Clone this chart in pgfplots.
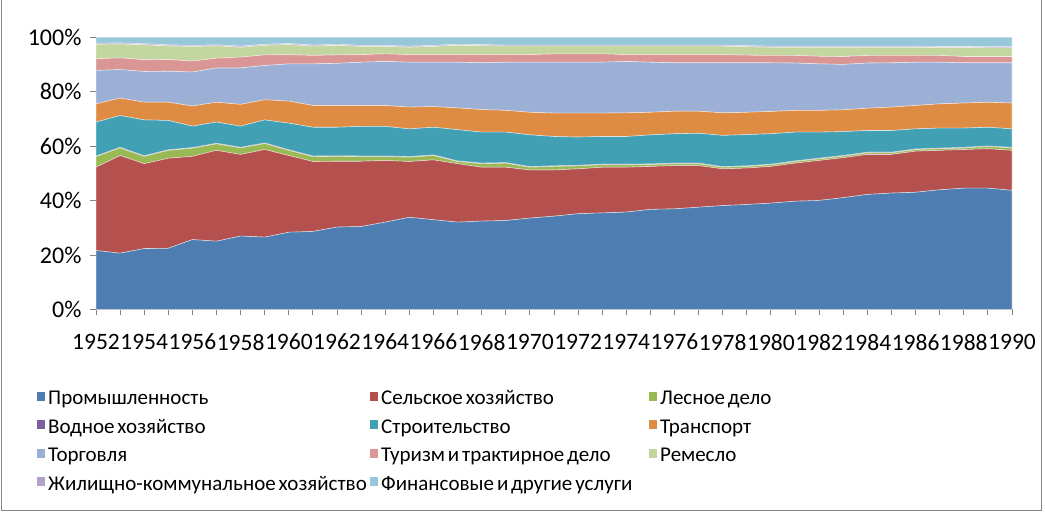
\documentclass[border=0pt]{standalone}
\usepackage{pgfplots}
\usepackage{pgfplotstable}
\pgfplotsset{compat=1.18}
\usepackage{fontspec}
\setmainfont{Carlito}
\newfontfamily\legfont{Carlito}[WordSpace=0.6]

\definecolor{c1}{HTML}{4E7DB1}
\definecolor{c2}{HTML}{B4504E}
\definecolor{c3}{HTML}{98B954}
\definecolor{c4}{HTML}{7D60A0}
\definecolor{c5}{HTML}{42A0B5}
\definecolor{c6}{HTML}{DE8B44}
\definecolor{c7}{HTML}{9BB0D4}
\definecolor{c8}{HTML}{D99694}
\definecolor{c9}{HTML}{C3D6A0}
\definecolor{c10}{HTML}{B3A2C7}
\definecolor{c11}{HTML}{96C8DA}
\definecolor{axgray}{HTML}{868686}

\newcommand{\la}[1]{\makebox[320pt][l]{#1}}
\newcommand{\lb}[1]{\makebox[266pt][l]{#1}}

\pgfplotstableread{
year B R G P T O Tg Pk Rm L F
1952 21.7 30.6 3.9 0.2 12.5 6.7 12.3 4.3 5.3 0.4 2.1
1953 20.7 35.9 2.8 0.2 11.7 6.4 10.5 4.3 5.1 0.4 2.0
1954 22.4 31.2 2.7 0.2 13.2 6.5 11.3 4.3 5.5 0.4 2.3
1955 22.5 33.1 2.9 0.2 10.8 6.7 11.4 4.3 5.0 0.4 2.7
1956 25.7 30.6 3.0 0.2 7.9 7.4 12.5 4.0 5.4 0.4 2.9
1957 25.1 33.4 2.4 0.2 7.8 7.3 12.6 3.6 4.5 0.4 2.7
1958 27.0 30.0 2.4 0.2 7.8 8.0 13.4 4.0 3.6 0.4 3.2
1959 26.6 32.2 2.2 0.2 8.5 7.4 12.6 3.9 3.5 0.4 2.5
1960 28.4 28.2 1.9 0.2 9.8 8.1 13.7 3.4 3.7 0.4 2.2
1961 28.7 25.7 1.8 0.2 10.6 8.0 15.3 3.1 3.4 0.4 2.8
1962 30.3 24.2 1.8 0.2 10.5 8.0 15.5 3.1 3.5 0.4 2.5
1963 30.5 24.0 1.7 0.2 10.9 7.7 15.9 2.8 3.0 0.4 2.9
1964 32.1 22.7 1.4 0.2 10.9 7.7 16.2 2.8 2.7 0.4 2.9
1965 33.9 20.5 1.6 0.2 10.2 8.0 16.5 2.8 2.7 0.4 3.2
1966 33.0 22.0 1.6 0.2 10.2 7.6 16.3 2.8 3.0 0.4 2.9
1967 32.1 21.5 0.8 0.2 11.5 8.0 16.8 2.8 3.4 0.4 2.5
1968 32.5 19.8 1.3 0.2 11.4 8.3 17.2 3.0 3.3 0.4 2.6
1969 32.7 19.6 1.5 0.2 11.2 8.0 17.7 2.8 3.1 0.4 2.8
1970 33.6 17.7 1.0 0.2 11.7 8.3 18.4 2.8 3.1 0.4 2.8
1971 34.3 17.0 1.3 0.2 10.8 8.6 18.7 3.1 2.8 0.4 2.8
1972 35.2 16.5 1.1 0.2 10.4 8.8 18.7 3.1 2.8 0.4 2.8
1973 35.5 16.8 0.9 0.2 10.2 8.6 18.7 3.1 2.8 0.4 2.8
1974 35.8 16.5 0.9 0.2 10.2 8.7 18.9 2.5 3.1 0.4 2.8
1975 36.8 15.8 0.7 0.2 10.7 8.3 18.4 2.8 3.1 0.4 2.8
1976 37.0 15.9 0.7 0.2 10.8 8.3 17.8 3.0 3.1 0.4 2.8
1977 37.6 15.3 0.7 0.2 11.0 8.1 17.8 3.0 3.1 0.4 2.8
1978 38.2 13.5 0.6 0.2 11.5 8.3 18.4 3.0 3.1 0.4 2.8
1979 38.6 13.4 0.6 0.2 11.5 8.2 18.2 2.8 3.1 0.4 3.0
1980 39.1 13.5 0.6 0.2 11.2 8.2 17.9 2.7 3.0 0.4 3.2
1981 39.8 14.0 0.6 0.2 10.6 8.0 17.4 2.8 3.0 0.4 3.2
1982 40.1 14.7 0.6 0.2 9.6 8.0 17.1 2.8 3.3 0.4 3.2
1983 41.1 14.7 0.6 0.2 8.8 8.0 16.7 2.9 3.4 0.4 3.2
1984 42.3 14.7 0.6 0.2 8.0 8.2 16.6 2.8 3.0 0.4 3.2
1985 42.8 14.2 0.6 0.2 8.0 8.6 16.3 2.7 3.0 0.4 3.2
1986 43.1 15.1 0.6 0.2 7.4 8.6 15.9 2.5 3.0 0.4 3.2
1987 44.0 14.5 0.6 0.2 7.4 8.9 15.3 2.5 2.9 0.4 3.3
1988 44.6 14.2 0.6 0.2 7.1 9.2 14.8 2.3 3.3 0.4 3.3
1989 44.6 14.5 0.8 0.2 6.9 9.2 14.5 2.3 3.2 0.4 3.4
1990 43.8 14.7 0.9 0.2 6.8 9.5 14.8 2.3 3.2 0.4 3.4
}\datatable

\begin{document}
\begin{tikzpicture}[x=1pt,y=1pt]
\path (0,0) rectangle (1045,515);
\draw[axgray, line width=1pt] (1.5,515) -- (1.5,4.5) -- (1041.5,4.5) -- (1041.5,515);
\begin{axis}[
  at={(96pt,206pt)}, anchor=south west,
  scale only axis, width=916pt, height=272pt,
  xmin=1952, xmax=1990, ymin=0, ymax=100,
  stack plots=y,
  axis on top=false,
  axis lines*=left,
  axis line style={axgray, line width=1pt},
  xtick={1952,1954,...,1990},
  minor xtick={1953,1955,...,1989},
  ytick={0,20,...,100},
  yticklabel={\pgfmathprintnumber{\tick}\%},
  /pgf/number format/assume math mode=true,
  xticklabel style={/pgf/number format/1000 sep={}, yshift=-15pt, font=\fontsize{23.5}{27}\selectfont},
  yticklabel style={xshift=-5pt, font=\fontsize{24}{27}\selectfont},
  tick align=outside,
  major tick length=6pt, minor tick length=6pt,
  tick style={axgray, line width=1pt},
  ymajorgrids,
  grid style={axgray, line width=1pt},
  ticklabel style={text=black},
  every axis plot/.append style={draw=white, draw opacity=0.55, line width=0.6pt},
  legend columns=3,
  legend cell align=left,
  legend image code/.code={\fill[#1, draw=none] (0pt,-1pt) rectangle (8pt,8pt);},
  legend style={
    at={(axis description cs:0,0)}, anchor=north west,
    xshift=-59pt, yshift=-80pt,
    draw=none, fill=none, inner sep=0pt,
    font=\legfont\fontsize{21}{25}\selectfont,
    nodes={inner sep=0pt, text height=15pt, text depth=5pt},
    row sep=8.5pt,
    /tikz/every odd column/.append style={column sep=3pt},
    /tikz/every even column/.append style={column sep=2pt},
  },
]
\addplot[fill=c1] table[x=year,y=B] {\datatable} \closedcycle;
\addlegendentry{\la{Промышленность}}
\addplot[fill=c2] table[x=year,y=R] {\datatable} \closedcycle;
\addlegendentry{\lb{Сельское хозяйство}}
\addplot[fill=c3] table[x=year,y=G] {\datatable} \closedcycle;
\addlegendentry{Лесное дело}
\addplot[fill=c4] table[x=year,y=P] {\datatable} \closedcycle;
\addlegendentry{\la{Водное хозяйство}}
\addplot[fill=c5] table[x=year,y=T] {\datatable} \closedcycle;
\addlegendentry{\lb{Строительство}}
\addplot[fill=c6] table[x=year,y=O] {\datatable} \closedcycle;
\addlegendentry{Транспорт}
\addplot[fill=c7] table[x=year,y=Tg] {\datatable} \closedcycle;
\addlegendentry{\la{Торговля}}
\addplot[fill=c8] table[x=year,y=Pk] {\datatable} \closedcycle;
\addlegendentry{\lb{Туризм и трактирное дело}}
\addplot[fill=c9] table[x=year,y=Rm] {\datatable} \closedcycle;
\addlegendentry{Ремесло}
\addplot[fill=c10] table[x=year,y=L] {\datatable} \closedcycle;
\addlegendentry{\la{Жилищно-коммунальное хозяйство}}
\addplot[fill=c11] table[x=year,y=F] {\datatable} \closedcycle;
\addlegendentry{\lb{Финансовые и другие услуги}}
\end{axis}
\end{tikzpicture}
\end{document}
